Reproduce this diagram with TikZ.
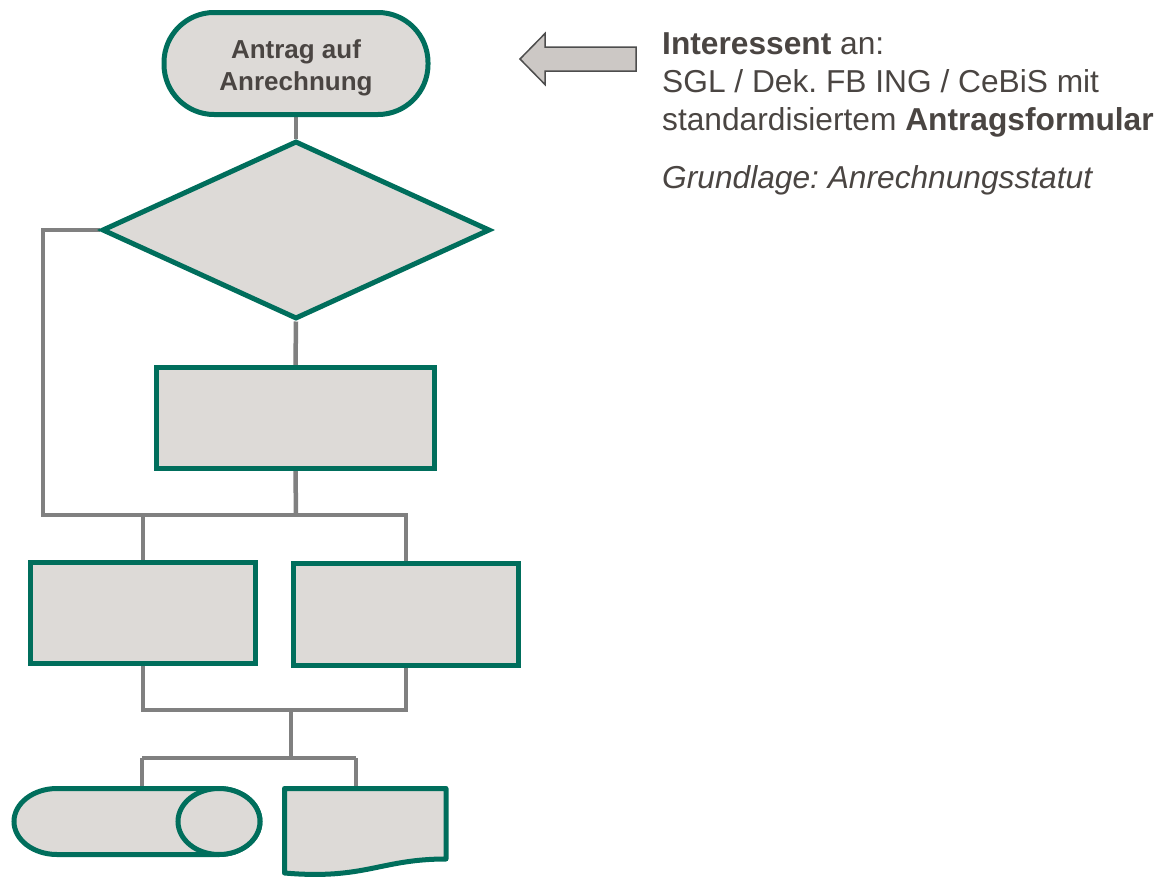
\documentclass[tikz,border=0pt]{standalone}
\usepackage{fontspec}
\setmainfont{Liberation Sans}
\usetikzlibrary{shapes.geometric,backgrounds}
\definecolor{boxfill}{HTML}{DDDAD7}
\definecolor{boxline}{HTML}{006E5C}
\definecolor{txt}{HTML}{4A4542}
\definecolor{conn}{HTML}{808080}
\definecolor{arrfill}{HTML}{CCC8C5}
\definecolor{arrline}{HTML}{4D4D4D}
\frenchspacing
\begin{document}
\begin{tikzpicture}[x=1pt,y=-1pt,
  flowbox/.style={draw=boxline,fill=boxfill,line width=5pt,inner sep=0pt},
  conline/.style={draw=conn,line width=4.5pt},
  txtstyle/.style={text=txt,inner sep=0pt,align=left}]
\useasboundingbox (0,0) rectangle (1160,878);
\node[flowbox,rectangle,rounded corners=50pt,minimum width=264pt,minimum height=102pt] (start) at (296,63.5) {};
\node[text=txt,align=center,inner sep=0pt,font=\bfseries\fontsize{26}{32}\selectfont] (startlabel) at (296,67.5) {Antrag auf\\Anrechnung};
\node[flowbox,diamond,minimum width=388pt,minimum height=178pt] (dec) at (296,230) {};
\node[flowbox,rectangle,minimum width=278pt,minimum height=101pt] (r1) at (295.5,418) {};
\node[flowbox,rectangle,minimum width=225pt,minimum height=101pt] (r2) at (143,613) {};
\node[flowbox,rectangle,minimum width=225pt,minimum height=102pt] (r3) at (406,614.5) {};
% coordinates
\coordinate (wl) at (43,230);
\coordinate (jl) at (43,515);
\coordinate (jm) at (296,515);
\coordinate (jr) at (406,515);
\coordinate (j2) at (143,515);
\coordinate (kl) at (143,710);
\coordinate (km) at (291,710);
\coordinate (kr) at (406,710);
\coordinate (ml) at (142,758);
\coordinate (mm) at (291,758);
\coordinate (mr) at (356,758);
\coordinate (cyltop) at (142,790);
\coordinate (doctop) at (356,790);
% horizontal cylinder (stored data)
\draw[flowbox] (57,788.5) -- (219,788.5) arc[start angle=-90,end angle=90,x radius=41pt,y radius=-33pt]
  -- (57,854.5) arc[start angle=90,end angle=270,x radius=43pt,y radius=-33pt] -- cycle;
\draw[flowbox] (219,821.5) ellipse[x radius=41pt,y radius=33pt];
% document shape
\draw[flowbox,line join=round] (284.5,788.5) -- (446,788.5) -- (446,859)
  .. controls (380,859) and (365,880) .. (284.5,873) -- cycle;
% connectors behind shapes
\begin{scope}[on background layer]
\draw[conline] (start.south) -- (dec.north);
\draw[conline] (dec.west) -- (wl) -- (jl) -- (jr) -- (r3.north);
\draw[conline] (j2) -- (r2.north);
\draw[conline] (dec.south) -- (r1.north);
\draw[conline] (r1.south) -- (jm);
\draw[conline] (r2.south) -- (kl) -- (kr) -- (r3.south);
\draw[conline] (km) -- (mm);
\draw[conline] (ml) -- (mr);
\draw[conline] (ml) -- (cyltop);
\draw[conline] (mr) -- (doctop);
\end{scope}
% block arrow
\draw[fill=arrfill,draw=arrline,line width=1.5pt,line join=miter]
  (520,59) -- (545,33.5) -- (545,47) -- (636,47) -- (636,71) -- (545,71) -- (545,84.5) -- cycle;
% right texts
\node[txtstyle,anchor=base west,font=\fontsize{31.7}{38}\selectfont] (info) at (662,130)
  {\textbf{Interessent} an:\\SGL / Dek. FB ING / CeBiS mit\\standardisiertem \textbf{Antragsformular}};
\node[txtstyle,anchor=base west,font=\itshape\fontsize{31.7}{38}\selectfont] (basis) at (662,188)
  {Grundlage: Anrechnungsstatut};
\end{tikzpicture}
\end{document}
